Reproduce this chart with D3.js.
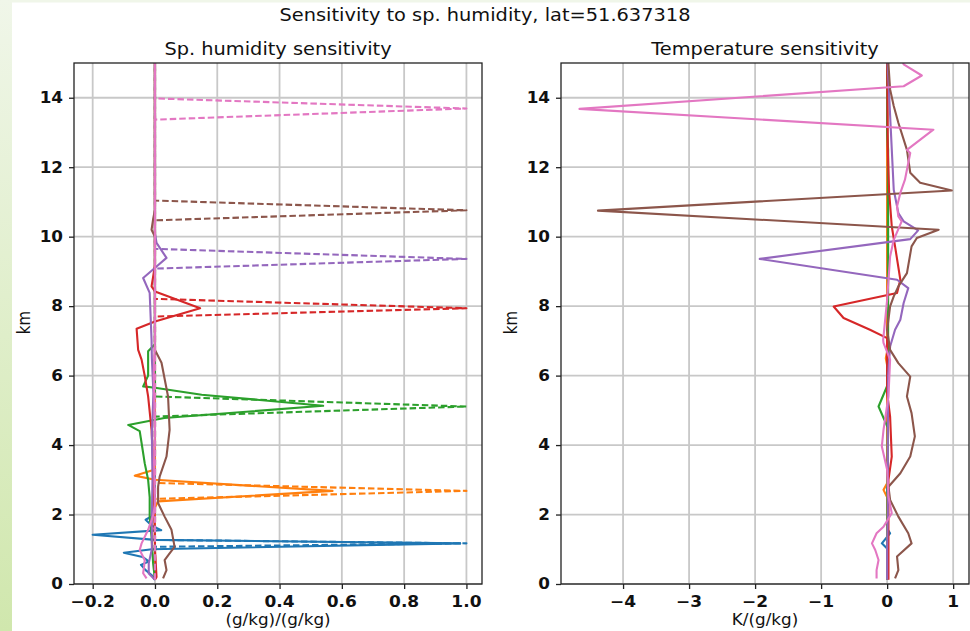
<!DOCTYPE html>
<html>
<head>
<meta charset="utf-8">
<script src="https://cdn.jsdelivr.net/npm/d3@7/dist/d3.min.js"></script>
<style>
  html, body { margin: 0; padding: 0; background: #fff; }
  svg { display: block; }
  text { font-family: "DejaVu Sans", sans-serif; fill: #111; }
</style>
</head>
<body>
<svg id="fig" width="970" height="631"></svg>
<script>
// ---- data ----------------------------------------------------------------
const seriesNames = ["blue", "orange", "green", "red", "purple", "brown", "pink"];
const seriesColors = ["#1f77b4", "#ff7f0e", "#2ca02c", "#d62728", "#9467bd", "#8c564b", "#e377c2"];

// Humidity response profiles, [value (g/kg)/(g/kg), height km]
const humBlue = [[0.0,0.12],[-0.01,0.25],[-0.03,0.4],[-0.045,0.55],[-0.02,0.65],[-0.04,0.78],[-0.1,0.9],[-0.01,1.0],[0.98,1.17],[0.0,1.27],[-0.2,1.42],[0.02,1.55],[-0.01,1.68],[-0.03,1.85],[0.0,2.0],[0.0,15.3]];
const humOrange = [[0.0,0.12],[0.0,2.2],[0.01,2.38],[0.57,2.68],[0.0,3.0],[-0.065,3.12],[0.0,3.3],[0.0,15.3]];
const humGreen = [[0.0,0.12],[-0.006,0.6],[-0.011,1.35],[-0.017,1.93],[-0.017,2.5],[-0.022,3.0],[-0.033,3.48],[-0.043,4.06],[-0.049,4.4],[-0.086,4.58],[0.03,4.78],[0.54,5.13],[0.15,5.45],[0.0,5.65],[-0.038,5.69],[-0.022,6.0],[-0.022,6.36],[-0.022,6.7],[0.0,6.9],[0.0,15.3]];
const humRed = [[0.0,0.12],[0.005,0.2],[0.0,1.0],[-0.003,2.5],[-0.006,3.49],[-0.011,4.44],[-0.022,5.4],[-0.033,6.0],[-0.043,6.46],[-0.054,6.74],[-0.059,7.35],[0.0,7.56],[0.145,7.94],[0.0,8.42],[-0.011,8.57],[-0.005,8.9],[0.0,9.2],[0.0,15.3]];
const humPurple = [[0.0,0.12],[-0.02,0.3],[-0.02,0.6],[-0.01,1.0],[-0.01,2.0],[-0.008,3.0],[-0.01,4.3],[-0.005,5.5],[-0.01,6.5],[-0.011,7.03],[-0.017,8.38],[-0.038,8.81],[0.005,9.14],[0.037,9.39],[0.005,9.82],[0.0,10.1],[0.0,15.3]];
const humBrown = [[0.026,0.16],[0.037,0.4],[0.031,0.69],[0.047,0.88],[0.063,1.07],[0.053,1.56],[0.031,1.94],[0.01,2.33],[0.01,2.8],[0.015,3.09],[0.037,3.67],[0.047,4.44],[0.042,5.4],[0.021,6.37],[0.0,6.74],[0.0,10.0],[-0.011,10.2],[-0.006,10.5],[0.0,10.78],[0.0,15.3]];
const humPink = [[-0.027,0.16],[-0.038,0.31],[-0.035,0.5],[-0.033,0.69],[-0.049,0.98],[-0.043,1.17],[-0.022,1.56],[-0.005,2.0],[0.0,2.3],[-0.003,3.5],[0.0,4.5],[-0.004,6.0],[0.0,7.0],[0.0,15.3]];

// Unit humidity perturbation at each level: lower edge, peak, upper edge (km)
const perturbLow  = [1.07, 2.45, 4.82, 7.70, 9.08, 10.47, 13.37];
const perturbPeak = [1.17, 2.68, 5.11, 7.94, 9.36, 10.76, 13.69];
const perturbHigh = [1.27, 2.91, 5.40, 8.21, 9.65, 11.04, 13.98];
const perturbAmp = 1.0;
const profileBottom = 0.12, profileTop = 15.3;

// Temperature response profiles, [value K/(g/kg), height km]
const tempBlue = [[0.0,0.12],[0.01,1.0],[-0.08,1.17],[0.045,1.46],[0.0,1.6],[0.0,15.3]];
const tempOrange = [[0.0,0.12],[0.0,2.5],[-0.055,2.71],[0.0,2.9],[0.0,6.3],[-0.02,6.5],[0.0,6.7],[0.0,15.3]];
const tempGreen = [[0.0,0.12],[0.01,4.5],[-0.13,5.11],[0.0,5.7],[0.015,7.0],[0.015,12.5],[0.0,13.0],[0.0,15.3]];
const tempRed = [[0.02,0.12],[0.02,3.0],[0.07,3.67],[0.045,4.82],[0.0,5.5],[0.0,7.08],[-0.26,7.32],[-0.66,7.66],[-0.81,7.99],[0.15,8.38],[0.2,8.76],[0.12,9.72],[0.07,10.3],[0.03,11.3],[0.01,12.5],[0.0,15.3]];
const tempPurple = [[0.0,0.12],[0.0,1.0],[0.01,2.0],[0.01,4.0],[0.015,6.0],[0.045,6.84],[0.12,7.32],[0.2,7.61],[0.25,8.09],[0.32,8.52],[0.15,8.76],[-1.93,9.36],[0.15,9.88],[0.35,9.93],[0.47,10.18],[0.25,10.44],[0.17,10.68],[0.1,11.35],[0.05,13.3],[0.0,15.3]];
const tempBrown = [[0.12,0.16],[0.17,0.4],[0.15,0.79],[0.37,1.17],[0.32,1.46],[0.17,1.94],[0.045,2.42],[0.02,2.8],[0.2,3.19],[0.35,3.67],[0.42,4.25],[0.37,4.92],[0.3,5.4],[0.35,5.97],[0.17,6.36],[0.045,6.74],[0.0,7.32],[0.045,7.99],[0.1,8.28],[0.17,8.57],[0.3,8.95],[0.37,9.72],[0.45,9.96],[0.78,10.2],[-4.38,10.75],[0.98,11.33],[0.5,11.55],[0.35,11.84],[0.3,12.5],[0.17,13.28],[0.1,13.76],[0.045,14.24],[0.02,14.96],[0.02,15.3]];
const tempPink = [[-0.16,0.16],[-0.16,0.4],[-0.13,0.69],[-0.18,0.98],[-0.23,1.17],[-0.16,1.46],[-0.055,1.65],[0.07,2.04],[0.02,2.52],[0.0,3.29],[-0.08,3.96],[-0.055,4.44],[0.02,5.4],[0.045,6.46],[-0.055,6.94],[-0.06,7.03],[0.0,8.18],[0.045,9.43],[0.1,9.91],[0.22,10.44],[0.17,10.58],[0.15,10.87],[0.2,11.26],[0.27,11.64],[0.32,12.12],[0.35,12.41],[0.3,12.5],[0.7,13.08],[-4.66,13.68],[0.25,14.33],[0.525,14.64],[0.25,14.96],[0.2,15.3]];

const humTicks = [-0.2, 0.0, 0.2, 0.4, 0.6, 0.8, 1.0];
const tempTicks = [-4, -3, -2, -1, 0, 1];
const kmTicks = [0, 2, 4, 6, 8, 10, 12, 14];

const figTitle = "Sensitivity to sp. humidity, lat=51.637318";
const humTitle = "Sp. humidity sensitivity";
const tempTitle = "Temperature sensitivity";
const humXLabel = "(g/kg)/(g/kg)";
const tempXLabel = "K/(g/kg)";
const yLabel = "km";

// ---- drawing -------------------------------------------------------------
const svg = d3.select("#fig");
const W = 970, H = 631;
const STRETCH = 1.12;   // glyphs are drawn slightly wide

// page backdrop: white canvas with a soft green band on the left and top
const defs = svg.append("defs");
const grad = defs.append("linearGradient").attr("id", "band").attr("x1", 0).attr("y1", 0).attr("x2", 0).attr("y2", 1);
grad.append("stop").attr("offset", 0).attr("stop-color", "#f0f6e9");
grad.append("stop").attr("offset", 1).attr("stop-color", "#d0e7ad");
svg.append("rect").attr("width", W).attr("height", H).attr("fill", "#fff");
svg.append("rect").attr("x", 0).attr("y", 0).attr("width", W).attr("height", 2.5).attr("fill", "#f0f6e9");
svg.append("rect").attr("x", 0).attr("y", 0).attr("width", 12).attr("height", H).attr("fill", "url(#band)");

function label(parent, x, y, txt, opts) {
  const o = Object.assign({ size: 14, weight: "normal", anchor: "middle", rotate: 0, sx: STRETCH }, opts || {});
  const g = parent.append("g").attr("transform", `translate(${x},${y}) rotate(${o.rotate})`);
  g.append("text")
    .attr("transform", o.rotate ? `scale(1,${o.sx})` : `scale(${o.sx},1)`)
    .attr("text-anchor", o.anchor)
    .attr("font-size", o.size)
    .attr("font-weight", o.weight)
    .text(txt);
  return g;
}

const plotTop = 63, plotBottom = 584;
const panels = [
  { x0: 74, x1: 482, domain: [-0.26, 1.05], ticks: humTicks, fmt: d3.format(".1f"),
    title: humTitle, xlabel: humXLabel,
    solid: [humBlue, humOrange, humGreen, humRed, humPurple, humBrown, humPink], dashed: true },
  { x0: 561, x1: 969, domain: [-4.94, 1.24], ticks: tempTicks, fmt: d3.format("d"),
    title: tempTitle, xlabel: tempXLabel,
    solid: [tempBlue, tempOrange, tempGreen, tempRed, tempPurple, tempBrown, tempPink], dashed: false }
];

const y = d3.scaleLinear().domain([0, 15]).range([plotBottom, plotTop]);
const minus = s => s.replace("-", "\u2212");

panels.forEach((p, pi) => {
  const x = d3.scaleLinear().domain(p.domain).range([p.x0, p.x1]);
  const g = svg.append("g");
  const clipId = "clip" + pi;
  defs.append("clipPath").attr("id", clipId)
    .append("rect").attr("x", p.x0).attr("y", plotTop).attr("width", p.x1 - p.x0).attr("height", plotBottom - plotTop);

  // grid
  const grid = g.append("g").attr("stroke", "#c8c8c8").attr("stroke-width", 1.8);
  grid.selectAll(".gx").data(p.ticks).join("line")
    .attr("x1", d => x(d)).attr("x2", d => x(d)).attr("y1", plotTop).attr("y2", plotBottom);
  grid.selectAll(".gy").data(kmTicks).join("line")
    .attr("x1", p.x0).attr("x2", p.x1).attr("y1", d => y(d)).attr("y2", d => y(d));

  // profiles
  const line = d3.line().x(d => x(d[0])).y(d => y(d[1]));
  const marks = g.append("g").attr("clip-path", `url(#${clipId})`).attr("fill", "none")
    .attr("stroke-linejoin", "round");
  p.solid.forEach((prof, i) => {
    marks.append("path").attr("d", line(prof))
      .attr("stroke", seriesColors[i]).attr("stroke-width", 2.1);
    if (p.dashed) {
      const pert = [[0, profileBottom], [0, perturbLow[i]], [perturbAmp, perturbPeak[i]],
                    [0, perturbHigh[i]], [0, profileTop]];
      marks.append("path").attr("d", line(pert))
        .attr("stroke", seriesColors[i]).attr("stroke-width", 2.1)
        .attr("stroke-dasharray", "6.5,3");
    }
  });

  // axes
  const xAxis = d3.axisBottom(x).tickValues(p.ticks).tickSize(5).tickFormat(() => "");
  const yAxis = d3.axisLeft(y).tickValues(kmTicks).tickSize(5).tickFormat(() => "");
  const ax = g.append("g").attr("transform", `translate(0,${plotBottom})`).call(xAxis);
  const ay = g.append("g").attr("transform", `translate(${p.x0},0)`).call(yAxis);
  [ax, ay].forEach(a => {
    a.select(".domain").remove();
    a.selectAll(".tick line").attr("stroke", "#222").attr("stroke-width", 1.3);
    a.selectAll(".tick text").remove();
  });
  p.ticks.forEach(t => label(g, x(t), plotBottom + 23, minus(p.fmt(t)), { size: 15.2, weight: "bold" }));
  kmTicks.forEach(t => label(g, p.x0 - 11, y(t) + 5.3, String(t), { size: 15, weight: "bold", anchor: "end" }));

  // frame
  g.append("rect").attr("x", p.x0).attr("y", plotTop).attr("width", p.x1 - p.x0).attr("height", plotBottom - plotTop)
    .attr("fill", "none").attr("stroke", "#222").attr("stroke-width", 1.3);

  // titles and axis labels
  label(svg, (p.x0 + p.x1) / 2, 55, p.title, { size: 17.3 });
  label(svg, (p.x0 + p.x1) / 2, 625, p.xlabel, { size: 15 });
  label(svg, p.x0 - 44, (plotTop + plotBottom) / 2 - 1, yLabel, { size: 15, rotate: -90 });
});

label(svg, 485, 21, figTitle, { size: 17.3 });
</script>
</body>
</html>
